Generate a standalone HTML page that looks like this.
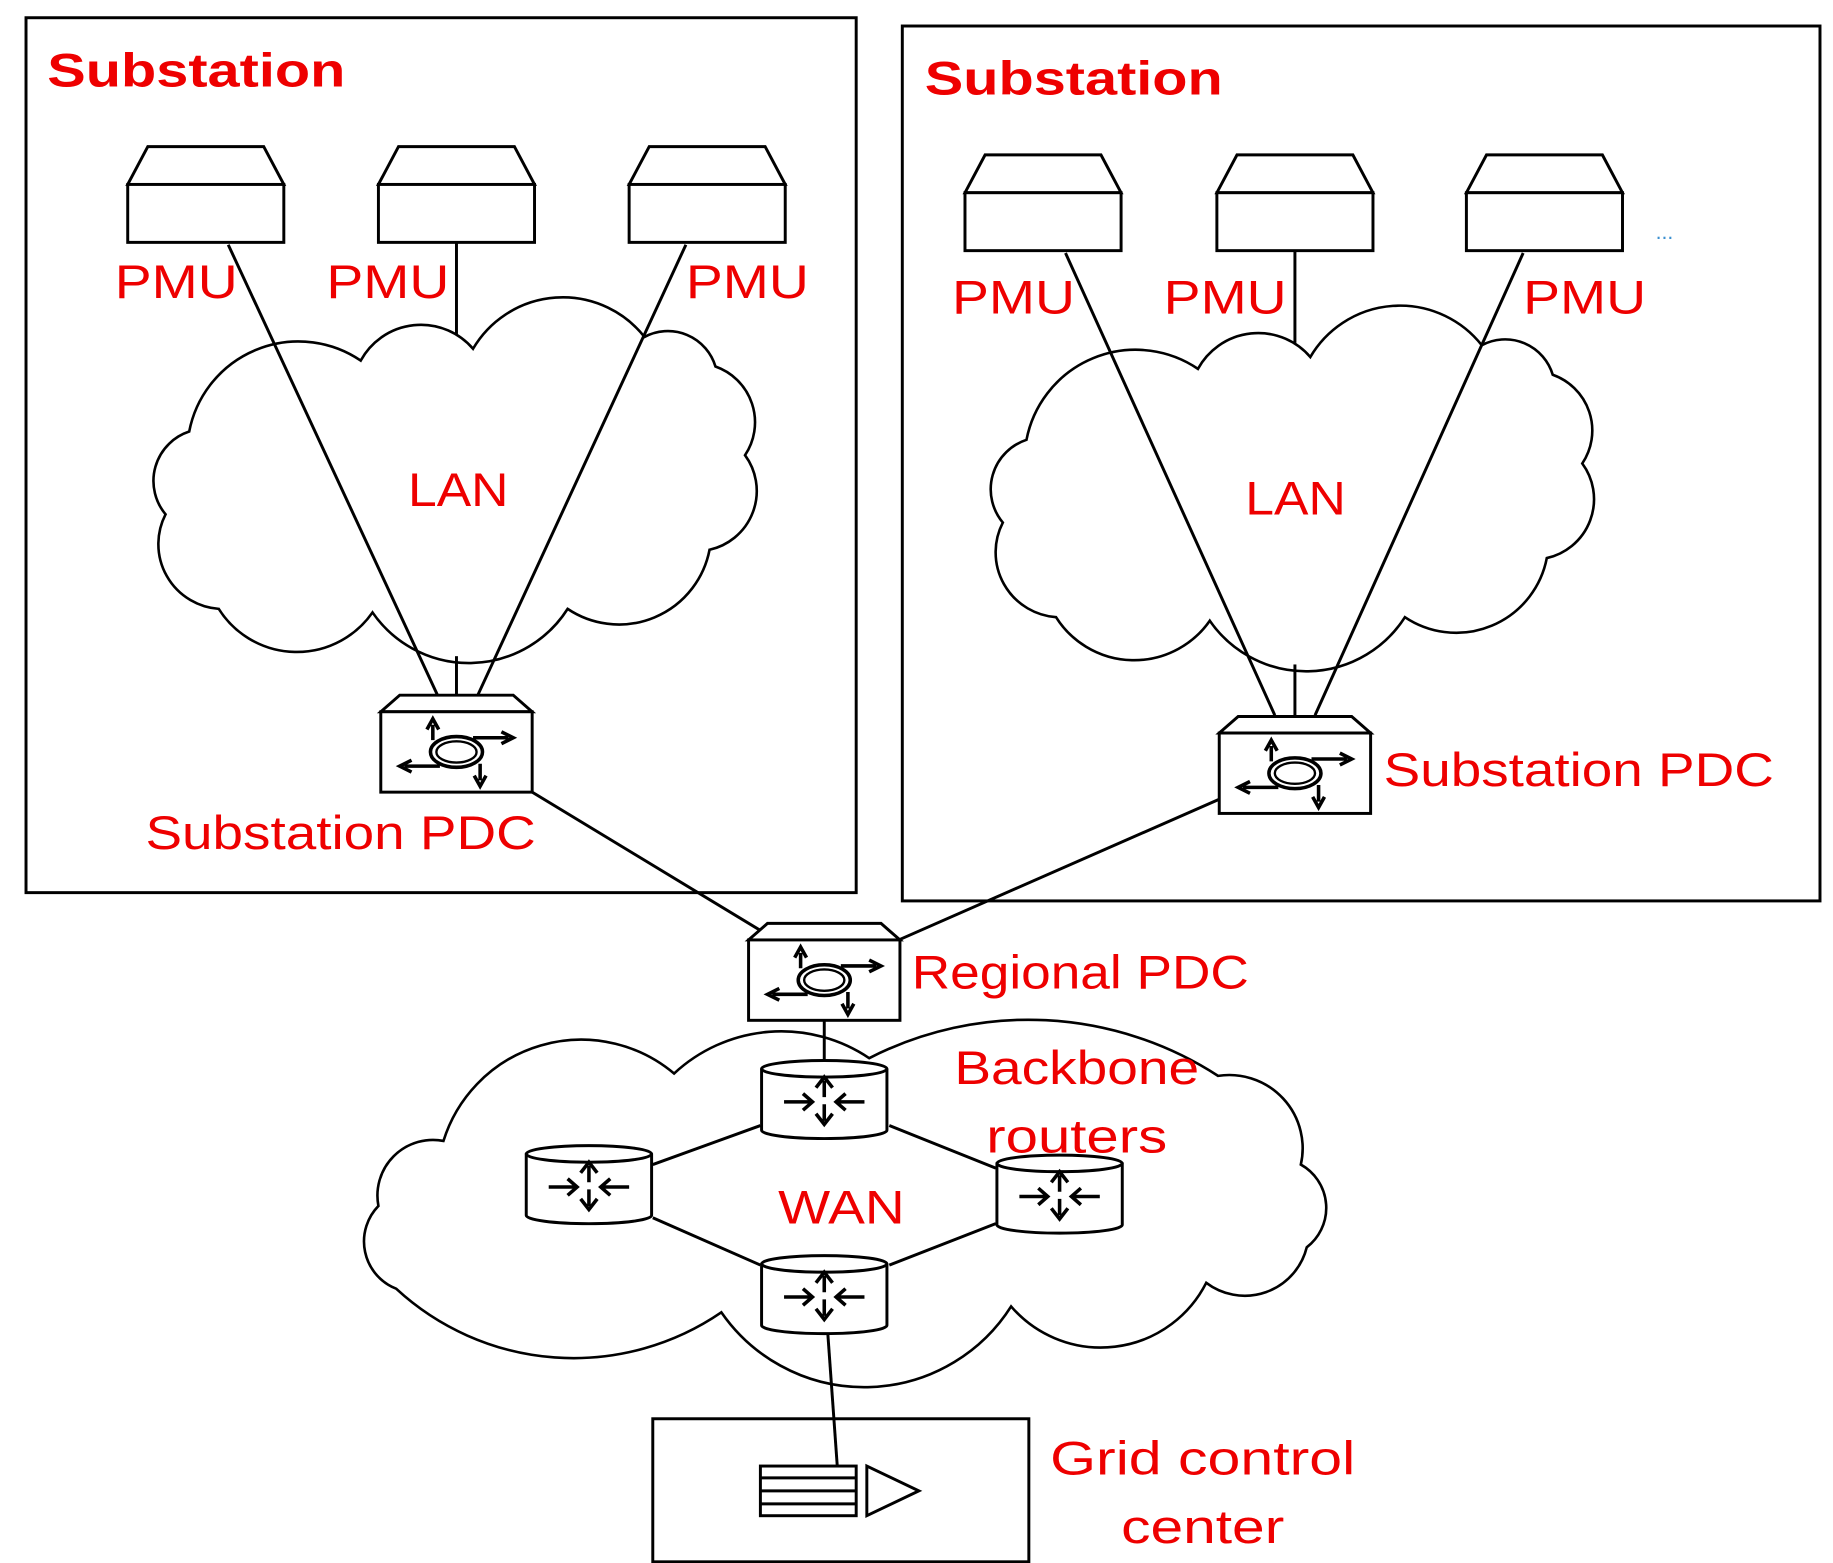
<!DOCTYPE html>
<html><head><meta charset="utf-8"><style>
html,body{margin:0;padding:0;background:#fff;}
svg{display:block;}
text{font-family:"Liberation Sans",sans-serif;fill:#ee0000;}
</style></head><body>
<svg width="1833" height="1563" viewBox="0 0 1550 1322" preserveAspectRatio="none" xmlns="http://www.w3.org/2000/svg">
<defs>
<g id="pmu" fill="#fff" stroke="#000" stroke-width="2.5">
  <path d="M-49,0 L49,0 L66,32 L-66,32 Z"/>
  <rect x="-66" y="32" width="132" height="49"/>
</g>
<g id="pdc" stroke="#000" stroke-width="2.5" fill="#fff">
  <path d="M-48,0 L48,0 L64,14 L-64,14 Z"/>
  <rect x="-64" y="14" width="128" height="68"/>
  <g stroke-width="3" fill="none">
    <ellipse cx="0" cy="48" rx="22" ry="13"/>
    <ellipse cx="0" cy="48" rx="17" ry="9" stroke-width="2"/>
    <path d="M-20,38 L-20,25 M-25,29 L-20,20 L-15,29"/>
    <path d="M14,36 L44,36 M38,31 L48,36 L38,41"/>
    <path d="M-14,60 L-44,60 M-38,55 L-48,60 L-38,65"/>
    <path d="M20,58 L20,72 M15,68 L20,77 L25,68"/>
  </g>
</g>
<g id="rtr" stroke="#000" stroke-width="2.5" fill="#fff">
  <path d="M-53,-26 L-53,26 A53,7 0 0 0 53,26 L53,-26"/>
  <ellipse cx="0" cy="-26" rx="53" ry="7"/>
  <g stroke-width="3" fill="none">
    <path d="M0,-2 L0,-16 M-7,-10 L0,-19 L7,-10"/>
    <path d="M0,4 L0,18 M-7,12 L0,21 L7,12"/>
    <path d="M-34,2 L-12,2 M-18,-5 L-10,2 L-18,9"/>
    <path d="M34,2 L12,2 M18,-5 L10,2 L18,9"/>
  </g>
</g>
<path id="cloud" d="M160,365 A94,94 0 0 1 305,305 A58,58 0 0 1 400,295 A88,88 0 0 1 545,285 A42,42 0 0 1 605,310 A50,50 0 0 1 630,385 A51,51 0 0 1 600,465 A78,78 0 0 1 480,515 A99,99 0 0 1 315,518 A78,78 0 0 1 185,515 A55,55 0 0 1 140,435 A44,44 0 0 1 160,365 Z" fill="#fff" stroke="#000" stroke-width="2.2"/>
</defs>

<rect x="22" y="15" width="702" height="740" fill="none" stroke="#000" stroke-width="2.5"/>
<rect x="763" y="22" width="776" height="740" fill="none" stroke="#000" stroke-width="2.5"/>
<text x="40" y="73" font-size="40" font-weight="bold" textLength="252" lengthAdjust="spacingAndGlyphs">Substation</text>
<text x="782" y="80" font-size="40" font-weight="bold" textLength="252" lengthAdjust="spacingAndGlyphs">Substation</text>

<use href="#cloud"/>
<use href="#cloud" transform="translate(708,7)"/>

<g stroke="#000" stroke-width="2.5">
  <line x1="193" y1="207" x2="370" y2="588"/>
  <line x1="386" y1="205" x2="386" y2="283"/>
  <line x1="580" y1="207" x2="404" y2="588"/>
  <line x1="386" y1="555" x2="386" y2="588"/>
  <line x1="901" y1="214" x2="1078" y2="605"/>
  <line x1="1095" y1="212" x2="1095" y2="290"/>
  <line x1="1288" y1="214" x2="1112" y2="605"/>
  <line x1="1095" y1="562" x2="1095" y2="605"/>
  <line x1="450" y1="670" x2="648" y2="790"/>
  <line x1="1031" y1="676" x2="760" y2="795"/>
</g>

<use href="#pmu" transform="translate(174,124)"/>
<use href="#pmu" transform="translate(386,124)"/>
<use href="#pmu" transform="translate(598,124)"/>
<use href="#pmu" transform="translate(882,131)"/>
<use href="#pmu" transform="translate(1095,131)"/>
<use href="#pmu" transform="translate(1306,131)"/>

<g font-size="40">
<text x="97" y="252" textLength="104" lengthAdjust="spacingAndGlyphs">PMU</text>
<text x="276" y="252" textLength="104" lengthAdjust="spacingAndGlyphs">PMU</text>
<text x="580" y="252" textLength="104" lengthAdjust="spacingAndGlyphs">PMU</text>
<text x="805" y="265" textLength="104" lengthAdjust="spacingAndGlyphs">PMU</text>
<text x="984" y="265" textLength="104" lengthAdjust="spacingAndGlyphs">PMU</text>
<text x="1288" y="265" textLength="104" lengthAdjust="spacingAndGlyphs">PMU</text>
<text x="345" y="428" textLength="85" lengthAdjust="spacingAndGlyphs">LAN</text>
<text x="1053" y="435" textLength="85" lengthAdjust="spacingAndGlyphs">LAN</text>
</g>
<text x="1400" y="202" font-size="18" style="fill:#3a8fd0">...</text>

<use href="#pdc" transform="translate(386,588)"/>
<use href="#pdc" transform="translate(1095,606)"/>
<text x="123" y="718" font-size="40" textLength="330" lengthAdjust="spacingAndGlyphs">Substation PDC</text>
<text x="1170" y="665" font-size="40" textLength="330" lengthAdjust="spacingAndGlyphs">Substation PDC</text>

<path d="M375,965 A122,122 0 0 1 570,908 A133,133 0 0 1 735,895 A295,295 0 0 1 1030,910 A62,62 0 0 1 1100,985 A42,42 0 0 1 1105,1055 A54,54 0 0 1 1020,1085 A100,100 0 0 1 855,1105 A147,147 0 0 1 610,1110 A221,221 0 0 1 335,1090 A43,43 0 0 1 320,1020 A47,47 0 0 1 375,965 Z" fill="#fff" stroke="#000" stroke-width="2.2"/>

<use href="#pdc" transform="translate(697,781)"/>
<text x="771" y="836" font-size="40" textLength="285" lengthAdjust="spacingAndGlyphs">Regional PDC</text>

<g stroke="#000" stroke-width="2.5">
  <line x1="697" y1="863" x2="697" y2="897"/>
  <line x1="643" y1="952" x2="552" y2="985"/>
  <line x1="752" y1="952" x2="842" y2="988"/>
  <line x1="552" y1="1030" x2="643" y2="1070"/>
  <line x1="752" y1="1070" x2="842" y2="1035"/>
  <line x1="700" y1="1128" x2="708" y2="1240"/>
</g>

<use href="#rtr" transform="translate(697,930)"/>
<use href="#rtr" transform="translate(498,1002)"/>
<use href="#rtr" transform="translate(896,1010)"/>
<use href="#rtr" transform="translate(697,1095)"/>

<text x="807" y="917" font-size="40" textLength="207" lengthAdjust="spacingAndGlyphs">Backbone</text>
<text x="834" y="975" font-size="40" textLength="153" lengthAdjust="spacingAndGlyphs">routers</text>
<text x="658" y="1035" font-size="40" textLength="107" lengthAdjust="spacingAndGlyphs">WAN</text>

<rect x="552" y="1200" width="318" height="121" fill="none" stroke="#000" stroke-width="2.5"/>
<g fill="#fff" stroke="#000" stroke-width="2.5">
  <rect x="643" y="1240" width="81" height="42"/>
  <line x1="643" y1="1250" x2="724" y2="1250"/>
  <line x1="643" y1="1261" x2="724" y2="1261"/>
  <line x1="643" y1="1272" x2="724" y2="1272"/>
  <path d="M733,1240 L777,1261 L733,1282 Z"/>
</g>
<text x="888" y="1247" font-size="40" textLength="258" lengthAdjust="spacingAndGlyphs">Grid control</text>
<text x="948" y="1305" font-size="40" textLength="138" lengthAdjust="spacingAndGlyphs">center</text>
</svg>
</body></html>
